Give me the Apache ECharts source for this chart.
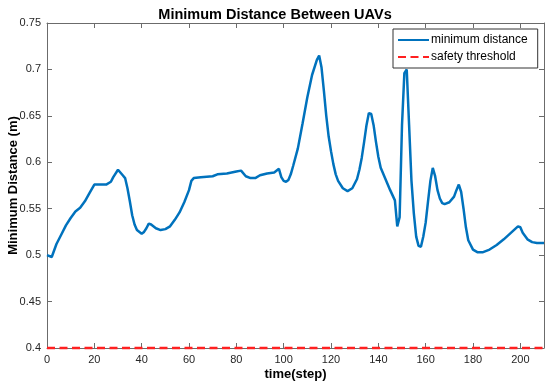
<!DOCTYPE html>
<html>
<head>
<meta charset="utf-8">
<script src="https://cdn.jsdelivr.net/npm/echarts@6/dist/echarts.min.js"></script>
<style>html,body{margin:0;padding:0;background:#fff;}#c{width:550px;height:387px;}</style>
</head>
<body>
<div id="c"></div>
<script>
var titleText = 'Minimum Distance Between UAVs';
var xName = 'time(step)';
var yName = 'Minimum Distance (m)';
var seriesNames = ['minimum distance', 'safety threshold'];
var steps = [0,2,4,6,8,10,12,14,16,18,20,22,25,27,28,30,32,33,34,35,36,37,38,40,41,42,43,44,46,48,50,52,54,56,58,60,61,62,65,70,72,76,80,82,84,86,88,90,93,96,98,99,100,101,102,103,104,106,108,110,112,114,115,116,117,118,119,120,121,122,123,125,127,129,131,132,133,134,135,136,137,138,139,140,141,143,145,147,148,149,150,151,152,153,154,155,156,157,158,159,160,161,162,163,164,165,166,167,168,170,172,173,174,175,176,177,178,180,182,184,187,190,193,196,199,200,201,203,205,207,210];
var minDist = [0.500,0.498,0.512,0.522,0.532,0.540,0.547,0.551,0.558,0.567,0.576,0.576,0.576,0.579,0.584,0.592,0.586,0.583,0.572,0.558,0.543,0.533,0.527,0.523,0.525,0.529,0.534,0.533,0.529,0.527,0.528,0.531,0.538,0.546,0.557,0.570,0.580,0.583,0.584,0.585,0.587,0.588,0.590,0.591,0.585,0.583,0.583,0.586,0.588,0.589,0.593,0.584,0.580,0.579,0.581,0.587,0.596,0.615,0.642,0.670,0.694,0.710,0.715,0.702,0.677,0.650,0.628,0.612,0.598,0.587,0.580,0.572,0.569,0.572,0.582,0.592,0.605,0.622,0.640,0.653,0.652,0.640,0.622,0.606,0.594,0.582,0.570,0.559,0.531,0.541,0.640,0.696,0.700,0.640,0.580,0.545,0.520,0.510,0.509,0.520,0.535,0.558,0.580,0.594,0.585,0.570,0.561,0.556,0.555,0.557,0.563,0.570,0.576,0.568,0.550,0.530,0.516,0.506,0.503,0.503,0.506,0.511,0.517,0.524,0.531,0.530,0.524,0.517,0.514,0.513,0.513];
var thresholdSteps = [0, 210];
var thresholdValues = [0.4, 0.4];

var lineData = steps.map(function(s, i){ return [s, minDist[i]]; });
var thrData = thresholdSteps.map(function(s, i){ return [s, thresholdValues[i]]; });

var font = 'Arial, "Liberation Sans", Helvetica, sans-serif';
var axisColor = '#6b6b6b';
var textColor = '#262626';
var chart = echarts.init(document.getElementById('c'), null, {renderer: 'canvas'});
function fmt(v){ return String(parseFloat(Number(v).toFixed(2))); }
chart.setOption({
  animation: false,
  backgroundColor: '#fff',
  title: {
    text: titleText, left: 'center', top: 2,
    textStyle: {fontFamily: font, fontSize: 14.5, fontWeight: 'bold', color: '#000'}
  },
  legend: {
    orient: 'vertical', left: 393, top: 29,
    itemWidth: 31, itemHeight: 10, itemGap: 5,
    padding: [5, 10, 5, 4],
    borderColor: '#333', borderWidth: 1, backgroundColor: '#fff',
    itemStyle: {opacity: 0},
    textStyle: {fontFamily: font, fontSize: 12, color: '#000', padding: [0,0,0,-3]},
    data: seriesNames
  },
  grid: {left: 47, right: 6, top: 23, bottom: 39, containLabel: false, outerBoundsMode: 'none'},
  xAxis: [{
    type: 'value', min: 0, max: 210, interval: 20,
    name: xName, nameLocation: 'middle', nameGap: 20, nameMoveOverlap: false,
    nameTextStyle: {fontFamily: font, fontSize: 13, fontWeight: 'bold', color: '#000'},
    axisLine: {show: true, onZero: false, lineStyle: {color: axisColor, width: 1}},
    axisTick: {show: true, inside: true, length: 5, lineStyle: {color: axisColor}},
    axisLabel: {fontFamily: font, fontSize: 11, color: textColor, margin: 6, showMaxLabel: false},
    splitLine: {show: false}
  }, {
    type: 'value', position: 'top', min: 0, max: 210, interval: 20,
    axisLine: {show: true, onZero: false, lineStyle: {color: axisColor, width: 1}},
    axisTick: {show: true, inside: true, length: 5, lineStyle: {color: axisColor}},
    axisLabel: {show: false}, splitLine: {show: false}
  }],
  yAxis: [{
    type: 'value', min: 0.4, max: 0.75, interval: 0.05,
    name: yName, nameLocation: 'middle', nameGap: 27, nameRotate: 90, nameMoveOverlap: false,
    nameTextStyle: {fontFamily: font, fontSize: 13, fontWeight: 'bold', color: '#000'},
    axisLine: {show: true, onZero: false, lineStyle: {color: axisColor, width: 1}},
    axisTick: {show: true, inside: true, length: 5, lineStyle: {color: axisColor}},
    axisLabel: {fontFamily: font, fontSize: 11, color: textColor, margin: 6, formatter: fmt},
    splitLine: {show: false}
  }, {
    type: 'value', position: 'right', min: 0.4, max: 0.75, interval: 0.05,
    axisLine: {show: true, onZero: false, lineStyle: {color: axisColor, width: 1}},
    axisTick: {show: true, inside: true, length: 5, lineStyle: {color: axisColor}},
    axisLabel: {show: false}, splitLine: {show: false}
  }],
  series: [{
    name: seriesNames[0], type: 'line', data: lineData, symbol: 'none', smooth: false,
    lineStyle: {color: '#0072BD', width: 2.5}, itemStyle: {color: '#0072BD'}, z: 3
  }, {
    name: seriesNames[1], type: 'line', data: thrData, symbol: 'none', clip: false,
    lineStyle: {color: '#ff2020', width: 2.5, type: [8, 4.5]}, itemStyle: {color: '#ff2020'}, z: 4
  }]
});
</script>
</body>
</html>
